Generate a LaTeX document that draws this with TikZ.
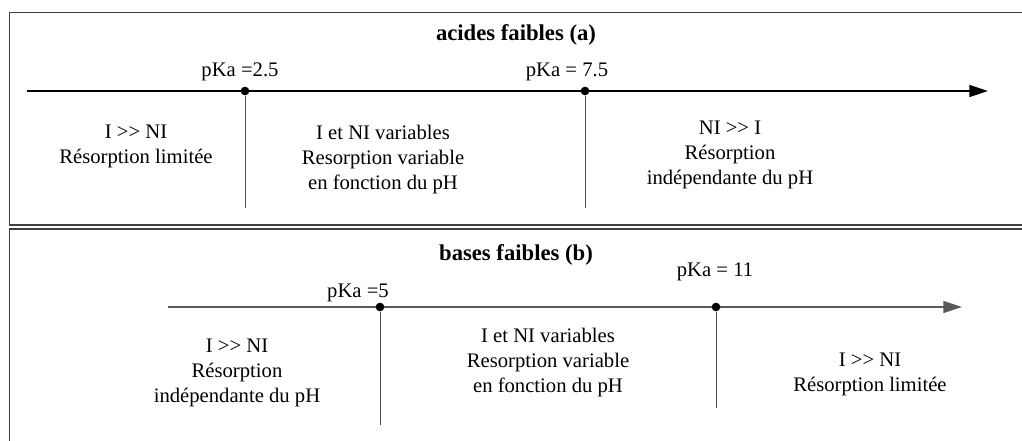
\documentclass[tikz,border=0pt]{standalone}
\usepackage{fontspec}
\setmainfont{Liberation Serif}
\usetikzlibrary{arrows.meta,positioning}
\begin{document}
\begin{tikzpicture}[
  x=0.75pt, y=-0.75pt,
  panel/.style={draw=black!75, line width=1.1pt},
  axis/.style={-{Triangle[length=14pt,width=9pt]}, line width=1.1pt},
  dot/.style={circle, fill=black, inner sep=0pt, minimum size=6.5pt},
  drop/.style={draw=black!70, line width=0.7pt},
  zone/.style={align=center, font=\fontsize{15.5}{18.75}\selectfont},
  tag/.style={font=\fontsize{15.5}{18}\selectfont},
  title/.style={font=\fontsize{17}{20}\selectfont\bfseries}
]
\useasboundingbox (0,0) rectangle (1022,441);

% Panels
\draw[panel] (1030,12.5) -- (9.5,12.5) -- (9.5,225) -- (1030,225);
\draw[panel] (1030,229) -- (9.5,229) -- (9.5,450);

% Acides faibles
\node[title] (titleA) at (516,35) {acides faibles (a)};
\coordinate (startA) at (27,91);
\coordinate (endA) at (988,91);
\draw[axis] (startA) -- (endA);
\node[dot] (pkaA1) at (245,91) {};
\node[dot] (pkaA2) at (585,91) {};
\coordinate (footA1) at (245,208);
\coordinate (footA2) at (585,208);
\node[tag] (labA1) at (240,72) {pKa =2.5};
\node[tag] (labA2) at (567,72) {pKa = 7.5};
\node[zone] (zoneA1) at (136,146) {I >{}> NI\\Résorption limitée};
\node[zone] (zoneA2) at (383,160) {I et NI variables\\Resorption variable\\en fonction du pH};
\node[zone] (zoneA3) at (730,155) {NI >{}> I\\Résorption\\indépendante du pH};

% Bases faibles
\node[title] (titleB) at (516,255) {bases faibles (b)};
\coordinate (startB) at (168,307);
\coordinate (endB) at (962,307);
\draw[axis, draw=black!65] (startB) -- (endB);
\node[dot] (pkaB1) at (380,307) {};
\node[dot] (pkaB2) at (716,307) {};
\coordinate (footB1) at (380,425);
\coordinate (footB2) at (716,408);
\node[tag] (labB1) at (358,293) {pKa =5};
\node[tag] (labB2) at (715,272) {pKa = 11};
\node[zone] (zoneB1) at (237,373) {I >{}> NI\\Résorption\\indépendante du pH};
\node[zone] (zoneB2) at (548,363) {I et NI variables\\Resorption variable\\en fonction du pH};
\node[zone] (zoneB3) at (870,374) {I >{}> NI\\Résorption limitée};

% Drops
\draw[drop] (pkaA1) -- (footA1);
\draw[drop] (pkaA2) -- (footA2);
\draw[drop] (pkaB1) -- (footB1);
\draw[drop] (pkaB2) -- (footB2);
\end{tikzpicture}
\end{document}
